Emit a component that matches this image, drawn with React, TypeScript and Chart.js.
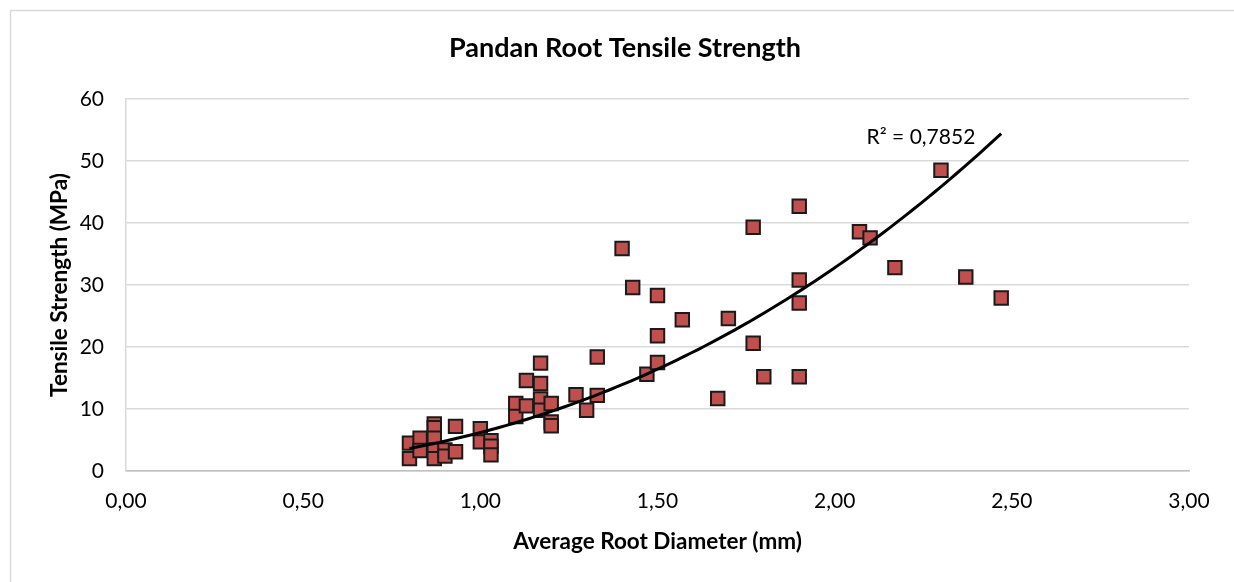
import React, { useEffect, useRef } from "react";
import { Chart, registerables } from "chart.js";

Chart.register(...registerables);

// Average root diameter (mm) of each sample
const diameters: number[] = [
  0.8, 0.8, 0.83, 0.83, 0.87, 0.87, 0.87, 0.87, 0.87, 0.9, 0.9, 0.93, 0.93,
  1.0, 1.0, 1.03, 1.03, 1.03, 1.1, 1.1, 1.13, 1.13, 1.17, 1.17, 1.17, 1.17,
  1.2, 1.2, 1.2, 1.27, 1.3, 1.33, 1.33, 1.4, 1.43, 1.47, 1.5, 1.5, 1.5, 1.57,
  1.67, 1.7, 1.77, 1.77, 1.8, 1.9, 1.9, 1.9, 1.9, 2.07, 2.1, 2.17, 2.3, 2.37,
  2.47,
];
// Tensile strength (MPa) of each sample
const strengths: number[] = [
  4.5, 2.0, 5.3, 3.3, 7.6, 7.0, 5.3, 3.4, 2.0, 3.4, 2.4, 7.2, 3.1,
  6.8, 4.7, 4.9, 4.0, 2.6, 10.9, 8.8, 14.6, 10.5, 17.4, 14.1, 11.6, 9.8,
  10.9, 7.9, 7.3, 12.3, 9.8, 18.4, 12.2, 35.9, 29.6, 15.6, 28.3, 21.8, 17.5, 24.4,
  11.7, 24.6, 39.3, 20.6, 15.2, 42.7, 30.8, 27.1, 15.2, 38.6, 37.6, 32.8, 48.5, 31.3,
  27.9,
];

const xTickValues: number[] = [0, 0.5, 1.0, 1.5, 2.0, 2.5, 3.0];
const yTickValues: number[] = [0, 10, 20, 30, 40, 50, 60];

const chartTitle = "Pandan Root Tensile Strength";
const xTitle = "Average Root Diameter (mm)";
const yTitle = "Tensile Strength (MPa)";
const r2Label = "R² = 0,7852";

const FONT = "Lato, 'Open Sans', sans-serif";

// Power trendline y = a * x^b (least squares in log space, as a spreadsheet does)
function powerFit(xs: number[], ys: number[]) {
  const n = xs.length;
  let sx = 0, sy = 0, sxx = 0, sxy = 0;
  for (let i = 0; i < n; i++) {
    const lx = Math.log(xs[i]);
    const ly = Math.log(ys[i]);
    sx += lx; sy += ly; sxx += lx * lx; sxy += lx * ly;
  }
  const b = (n * sxy - sx * sy) / (n * sxx - sx * sx);
  const a = Math.exp((sy - b * sx) / n);
  return { a, b };
}

export default function App() {
  const ref = useRef<HTMLCanvasElement | null>(null);

  useEffect(() => {
    if (!ref.current) return;
    const points = diameters.map((x, i) => ({ x, y: strengths[i] }));
    const { a, b } = powerFit(diameters, strengths);
    const xmin = Math.min(...diameters);
    const xmax = Math.max(...diameters);
    const trend: { x: number; y: number }[] = [];
    const steps = 80;
    for (let i = 0; i <= steps; i++) {
      const x = xmin + ((xmax - xmin) * i) / steps;
      trend.push({ x, y: a * Math.pow(x, b) });
    }

    const decor = {
      id: "decor",
      beforeDraw(chart: any) {
        const ctx = chart.ctx;
        ctx.save();
        ctx.fillStyle = "#ffffff";
        ctx.fillRect(0, 0, chart.width, chart.height);
        ctx.strokeStyle = "#d9d9d9";
        ctx.lineWidth = 1.5;
        ctx.beginPath();
        ctx.moveTo(10.5, chart.height);
        ctx.lineTo(10.5, 10.5);
        ctx.lineTo(chart.width, 10.5);
        ctx.stroke();
        ctx.restore();
      },
      afterDraw(chart: any) {
        const ctx = chart.ctx;
        ctx.save();
        ctx.fillStyle = "#000000";
        ctx.font = `bold 27px ${FONT}`;
        ctx.textAlign = "center";
        ctx.textBaseline = "middle";
        ctx.fillText(chartTitle, 625, 48);
        const xs = chart.scales.x;
        const ys = chart.scales.y;
        ctx.font = `21px ${FONT}`;
        ctx.textAlign = "left";
        ctx.fillText(r2Label, xs.getPixelForValue(2.09), ys.getPixelForValue(53.8));
        ctx.restore();
      },
    };

    const chart = new Chart(ref.current, {
      type: "scatter",
      data: {
        datasets: [
          {
            type: "line",
            label: "Trend",
            data: trend,
            borderColor: "#000000",
            borderWidth: 3,
            pointRadius: 0,
            fill: false,
            tension: 0,
            order: 0,
          } as any,
          {
            label: "Samples",
            data: points,
            pointStyle: "rect",
            pointRadius: 9.5,
            backgroundColor: "#C0504D",
            borderColor: "#1a1a1a",
            borderWidth: 2,
            order: 1,
          },
        ],
      },
      options: {
        responsive: false,
        animation: false,
        layout: { padding: { left: 0, top: 99, right: 45, bottom: 0 } },
        plugins: {
          legend: { display: false },
          tooltip: { enabled: false },
          title: { display: false },
        },
        scales: {
          x: {
            type: "linear",
            min: 0,
            max: 3,
            afterBuildTicks: (scale: any) => {
              scale.ticks = xTickValues.map((v) => ({ value: v }));
            },
            afterFit: (scale: any) => {
              scale.height = 111;
            },
            ticks: {
              autoSkip: false,
              maxRotation: 0,
              padding: 18,
              color: "#000000",
              font: { family: FONT, size: 21 },
              callback: (v: any) => Number(v).toFixed(2).replace(".", ","),
            },
            grid: { display: false, drawTicks: false },
            border: { display: true, color: "#bfbfbf", width: 1.5 },
            title: {
              display: true,
              text: xTitle,
              color: "#000000",
              font: { family: FONT, size: 22.5, weight: "bold" },
              padding: { top: 0, bottom: 27 },
            },
          },
          y: {
            type: "linear",
            min: 0,
            max: 60,
            afterBuildTicks: (scale: any) => {
              scale.ticks = yTickValues.map((v) => ({ value: v }));
            },
            afterFit: (scale: any) => {
              scale.width = 126;
            },
            ticks: {
              padding: 22,
              color: "#000000",
              font: { family: FONT, size: 21 },
            },
            grid: { color: "#d9d9d9", lineWidth: 1.5, drawTicks: false },
            border: { display: true, color: "#d9d9d9", width: 1.5 },
            title: {
              display: true,
              text: yTitle,
              color: "#000000",
              font: { family: FONT, size: 22.5, weight: "bold" },
              padding: { top: 46, bottom: 0 },
            },
          },
        },
      },
      plugins: [decor],
    });

    return () => chart.destroy();
  }, []);

  return (
    <div style={{ position: "absolute", left: 0, top: 0, width: 1234, height: 582 }}>
      <canvas ref={ref} width={1234} height={582} />
    </div>
  );
}
